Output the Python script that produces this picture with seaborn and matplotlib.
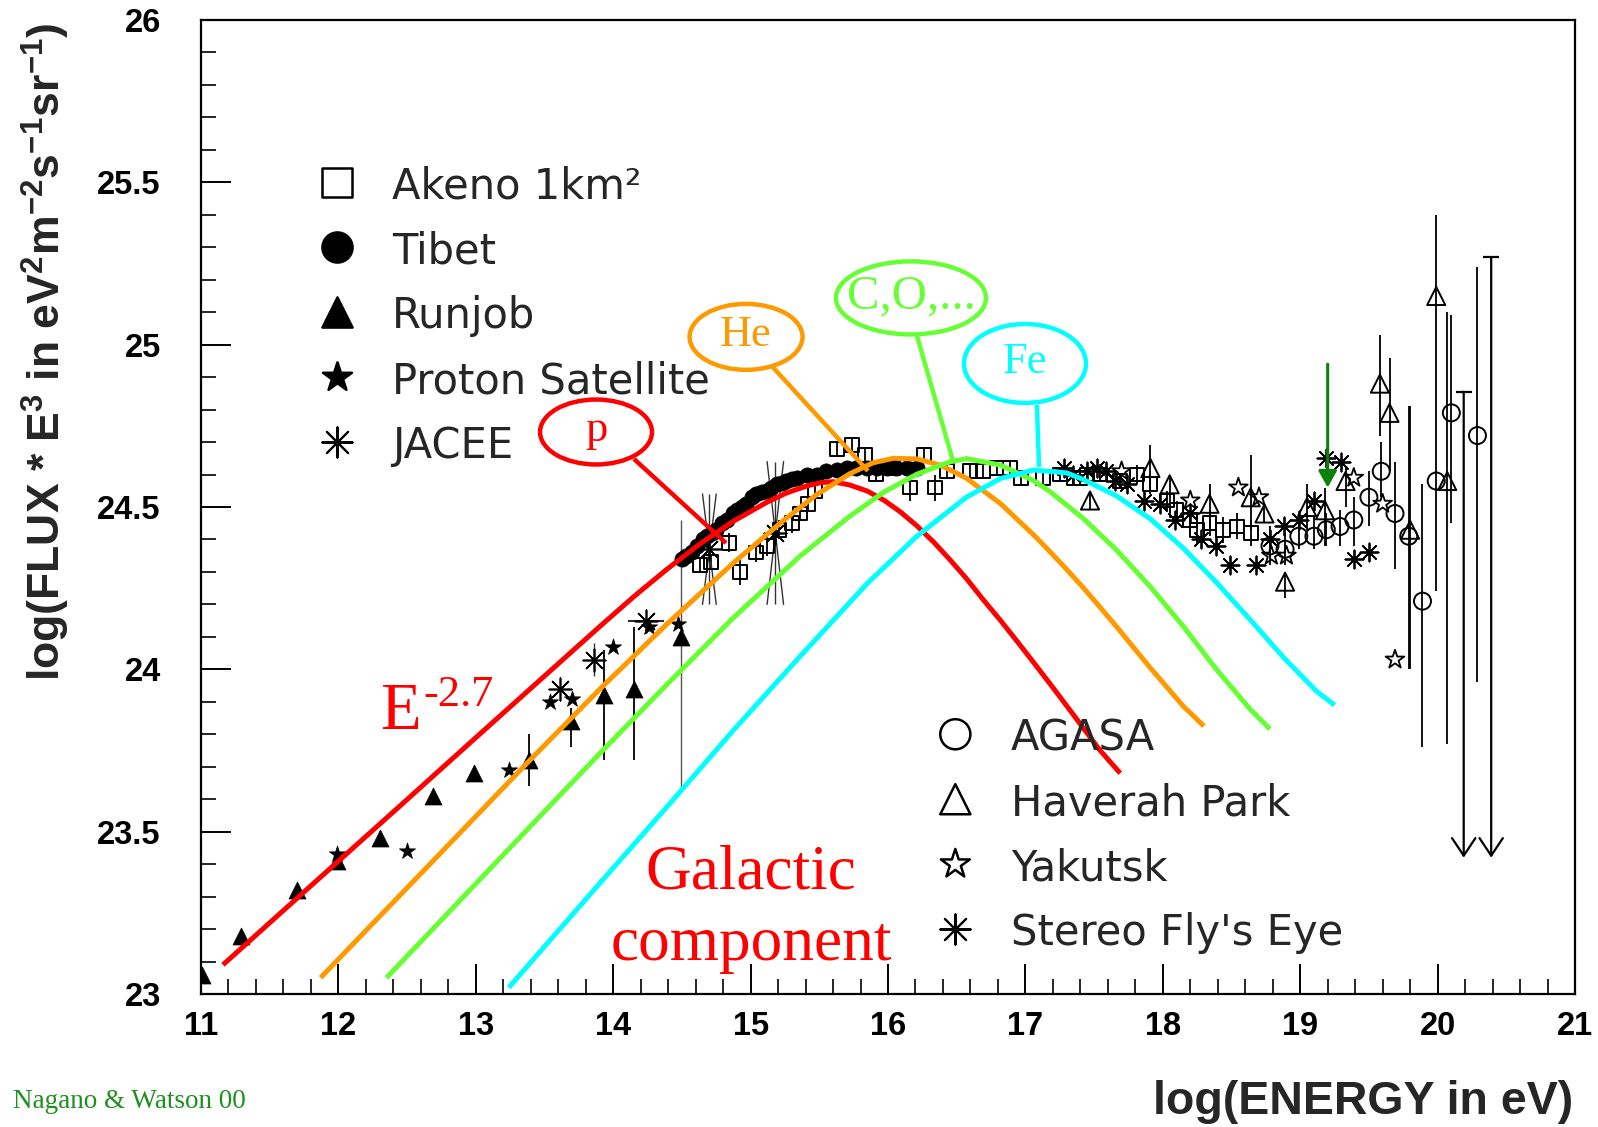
import numpy as np
import pandas as pd
import matplotlib
matplotlib.use("Agg")
import matplotlib.pyplot as plt
from matplotlib.patches import Ellipse
from matplotlib.ticker import MultipleLocator, FixedLocator
import seaborn as sns

# ---------------- galactic component model spectra (log E, log flux*E^3) ----------------
p_x = [11.16, 11.72, 12.45, 12.98, 13.42, 13.90, 14.15, 14.39, 14.63, 14.87, 15.12, 15.26,
       15.41, 15.51, 15.60, 15.72, 15.85, 15.97, 16.09, 16.21, 16.33, 16.45, 16.57, 16.69,
       16.82, 16.94, 17.06, 17.18, 17.30, 17.42, 17.54, 17.69]
p_y = [23.09, 23.303, 23.580, 23.782, 23.949, 24.131, 24.224, 24.308, 24.386, 24.455, 24.515, 24.543,
       24.565, 24.575, 24.578, 24.568, 24.549, 24.521, 24.485, 24.442, 24.393, 24.338, 24.280, 24.216,
       24.150, 24.086, 24.021, 23.955, 23.888, 23.820, 23.752, 23.680]

he_x = [11.87, 12.40, 12.90, 13.40, 13.90, 14.39, 14.87, 15.24, 15.48, 15.72, 15.89, 16.04,
        16.21, 16.38, 16.57, 16.82, 17.06, 17.18, 17.30, 17.42, 17.54, 17.66, 17.91, 18.15, 18.30]
he_y = [23.05, 23.283, 23.503, 23.723, 23.938, 24.139, 24.326, 24.459, 24.538, 24.602, 24.636, 24.650,
        24.648, 24.629, 24.589, 24.510, 24.414, 24.362, 24.308, 24.252, 24.193, 24.133, 24.004, 23.886, 23.825]

co_x = [12.35, 12.90, 13.49, 13.90, 14.39, 14.87, 15.36, 15.72, 15.97, 16.21, 16.45, 16.57,
        16.82, 17.06, 17.18, 17.42, 17.66, 17.91, 18.15, 18.39, 18.64, 18.78]
co_y = [23.05, 23.295, 23.558, 23.740, 23.953, 24.157, 24.349, 24.471, 24.546, 24.601, 24.639, 24.649,
        24.629, 24.581, 24.547, 24.465, 24.369, 24.254, 24.132, 24.000, 23.875, 23.816]

fe_x = [13.24, 13.90, 14.44, 14.87, 15.36, 15.85, 16.21, 16.57, 16.82, 17.06, 17.30, 17.42,
        17.66, 17.91, 18.15, 18.39, 18.64, 18.88, 19.12, 19.25]
fe_y = [23.02, 23.34, 23.60, 23.81, 24.04, 24.265, 24.41, 24.53, 24.588, 24.614, 24.605, 24.585,
        24.535, 24.463, 24.373, 24.268, 24.151, 24.036, 23.932, 23.89]

# ---------------- measurements ----------------
# Akeno 1 km^2
ak_x = [14.63, 14.71, 14.84, 14.92, 15.04, 15.12, 15.21, 15.30, 15.36, 15.42, 15.47, 15.63,
        15.74, 15.83, 15.91, 16.04, 16.16, 16.26, 16.34, 16.43, 16.60, 16.69, 16.79, 16.89,
        16.97, 17.13, 17.25, 17.35, 17.40, 17.45, 17.54, 17.69, 17.81, 17.91, 18.03, 18.10,
        18.20, 18.25, 18.34, 18.44, 18.54, 18.64]
ak_y = [24.32, 24.33, 24.39, 24.30, 24.36, 24.38, 24.43, 24.45, 24.48, 24.51, 24.55, 24.68,
        24.69, 24.66, 24.60, 24.62, 24.56, 24.66, 24.56, 24.61, 24.61, 24.61, 24.62, 24.62,
        24.59, 24.59, 24.60, 24.59, 24.59, 24.60, 24.60, 24.58, 24.60, 24.57, 24.52, 24.49,
        24.46, 24.43, 24.45, 24.43, 24.44, 24.42]
ak_err = [0.02, 0.02, 0.03, 0.04, 0.03, 0.03, 0.03, 0.03, 0.02, 0.02, 0.02, 0.02,
          0.02, 0.02, 0.02, 0.02, 0.04, 0.02, 0.04, 0.02, 0.02, 0.02, 0.02, 0.02,
          0.02, 0.02, 0.02, 0.02, 0.02, 0.02, 0.02, 0.02, 0.03, 0.03, 0.03, 0.03,
          0.03, 0.04, 0.04, 0.04, 0.04, 0.04]

# Tibet
tb_x = [14.50, 14.53, 14.57, 14.61, 14.65, 14.68, 14.72, 14.75, 14.79, 14.83, 14.87, 14.90,
        14.94, 14.97, 15.01, 15.04, 15.08, 15.12, 15.15, 15.19, 15.23, 15.26, 15.30, 15.34,
        15.41, 15.48, 15.55, 15.63, 15.70, 15.77, 15.85, 15.92, 15.99, 16.06, 16.14, 16.21]
tb_y = [24.34, 24.35, 24.36, 24.38, 24.40, 24.41, 24.42, 24.43, 24.45, 24.46, 24.48, 24.49,
        24.50, 24.51, 24.53, 24.54, 24.545, 24.55, 24.56, 24.57, 24.575, 24.58, 24.585, 24.59,
        24.60, 24.60, 24.61, 24.615, 24.62, 24.62, 24.62, 24.62, 24.62, 24.62, 24.62, 24.62]

# Runjob
rj_x = [11.01, 11.29, 11.70, 11.99, 12.30, 12.69, 12.99, 13.39, 13.69, 13.93, 14.15, 14.49]
rj_y = [23.06, 23.18, 23.32, 23.41, 23.48, 23.61, 23.68, 23.72, 23.84, 23.92, 23.94, 24.10]
rj_lo = [23.06, 23.18, 23.32, 23.41, 23.48, 23.61, 23.68, 23.64, 23.76, 23.72, 23.72, 23.63]
rj_hi = [23.06, 23.18, 23.32, 23.41, 23.48, 23.61, 23.68, 23.80, 23.88, 24.06, 24.13, 24.46]

# Proton Satellite
ps_x = [11.99, 12.50, 13.24, 13.54, 13.70, 14.00, 14.26, 14.47]
ps_y = [23.43, 23.44, 23.69, 23.90, 23.91, 24.07, 24.13, 24.14]

# JACEE
jc_x = [13.61, 13.86, 14.24, 14.70, 15.18]
jc_y = [23.94, 24.03, 24.15, 24.37, 24.42]
jc_dx = [0.00, 0.00, 0.13, 0.10, 0.12]
jc_dy = [0.00, 0.05, 0.00, 0.17, 0.22]

# AGASA
ag_x = [18.78, 18.89, 18.99, 19.10, 19.19, 19.29, 19.39, 19.50, 19.59, 19.69, 19.79, 19.89,
        19.99, 20.10, 20.29]
ag_y = [24.38, 24.37, 24.41, 24.41, 24.43, 24.44, 24.46, 24.53, 24.61, 24.48, 24.41, 24.21,
        24.58, 24.79, 24.72]
ag_lo = [24.32, 24.32, 24.37, 24.37, 24.38, 24.38, 24.38, 24.44, 24.53, 24.31, 24.00, 23.76,
         24.58, 24.45, 23.96]
ag_hi = [24.44, 24.42, 24.45, 24.47, 24.48, 24.49, 24.53, 24.61, 24.70, 24.64, 24.81, 24.57,
         24.58, 25.09, 25.24]

# Haverah Park
hp_x = [17.47, 17.91, 18.05, 18.34, 18.64, 18.74, 18.89, 19.05, 19.18, 19.33, 19.58, 19.65,
        19.80, 19.99, 20.07]
hp_y = [24.52, 24.62, 24.57, 24.51, 24.53, 24.48, 24.27, 24.50, 24.49, 24.58, 24.88, 24.79,
        24.43, 25.15, 24.58]
hp_lo = [24.49, 24.55, 24.50, 24.43, 24.43, 24.45, 24.22, 24.43, 24.38, 24.50, 24.72, 24.61,
         24.00, 24.24, 23.77]
hp_hi = [24.54, 24.69, 24.59, 24.57, 24.66, 24.51, 24.30, 24.57, 24.56, 24.62, 25.03, 24.96,
         24.81, 25.40, 25.10]

# Yakutsk
yk_x = [17.70, 18.20, 18.55, 18.70, 18.79, 18.90, 19.39, 19.60, 19.69]
yk_y = [24.61, 24.52, 24.56, 24.53, 24.35, 24.35, 24.59, 24.51, 24.03]

# Stereo Fly's Eye
fe_obs_x = [17.28, 17.35, 17.45, 17.52, 17.59, 17.65, 17.74, 17.86, 17.98, 18.09, 18.20, 18.28,
            18.39, 18.49, 18.68, 18.78, 18.88, 18.99, 19.10, 19.19, 19.30, 19.39, 19.50]
fe_obs_y = [24.62, 24.60, 24.61, 24.62, 24.61, 24.58, 24.57, 24.52, 24.51, 24.46, 24.48, 24.40,
            24.38, 24.32, 24.32, 24.40, 24.44, 24.46, 24.52, 24.65, 24.64, 24.34, 24.36]

# AGASA upper limits (log E, upper value)
ul_x = [20.19, 20.39]
ul_y = [24.855, 25.27]

# GZK-region marker
mark_x = 19.20
mark_y = [24.94, 24.56]

upper_labels = ["Akeno 1km\u00b2", "Tibet", "Runjob", "Proton Satellite", "JACEE"]
lower_labels = ["AGASA", "Haverah Park", "Yakutsk", "Stereo Fly's Eye"]

x_ticks = [11, 12, 13, 14, 15, 16, 17, 18, 19, 20, 21]
y_ticks = [23, 23.5, 24, 24.5, 25, 25.5, 26]
y_ticklabels = ["23", "23.5", "24", "24.5", "25", "25.5", "26"]

# ---------------- styling ----------------
sns.set_style("white")
plt.rcParams["font.family"] = ["Liberation Sans", "DejaVu Sans"]
plt.rcParams["mathtext.fontset"] = "custom"
plt.rcParams["mathtext.rm"] = "Liberation Sans:bold"
plt.rcParams["mathtext.bf"] = "Liberation Sans:bold"
plt.rcParams["mathtext.it"] = "Liberation Sans:bold"
plt.rcParams["mathtext.default"] = "bf"

curve_colors = {"p": "#ff0000", "He": "#ff9900", "C,O,...": "#66ff33", "Fe": "#00ffff"}
SERIF = ["Liberation Serif", "DejaVu Serif"]
LEG_FONT = ["DejaVu Sans"]

fig = plt.figure(figsize=(15.98, 11.27), dpi=100)
fig.patch.set_facecolor("white")
ax = fig.add_axes([201 / 1598, 1 - 994 / 1127, 1374 / 1598, 974 / 1127])
ax.set_facecolor("white")

# ---------------- error bars ----------------
EB = dict(colors="black", linewidths=1.3, zorder=2)
ax.vlines(ak_x, np.array(ak_y) - np.array(ak_err), np.array(ak_y) + np.array(ak_err), **EB)
ax.vlines(rj_x[:-1], rj_lo[:-1], rj_hi[:-1], **EB)
ax.vlines(rj_x[-1:], rj_lo[-1:], rj_hi[-1:], colors="#555555", linewidths=1.0, zorder=2)
ax.vlines(ag_x, ag_lo, ag_hi, **EB)
ax.vlines(hp_x, hp_lo, hp_hi, **EB)
for x, y, dx, dy in zip(jc_x, jc_y, jc_dx, jc_dy):
    if dy > 0:
        ax.vlines(x, y - dy, y + dy, colors="#333333", linewidths=1.0, zorder=2)
    if dx > 0 and dy == 0:
        ax.hlines(y, x - dx, x + dx, colors="black", linewidths=1.2, zorder=2)
    if dx > 0 and dy > 0:
        ax.plot([x - dx * 0.5, x + dx * 0.5], [y + dy, y - dy], color="#333333", lw=1.0, zorder=2)
        ax.plot([x + dx * 0.5, x - dx * 0.5], [y + dy, y - dy], color="#333333", lw=1.0, zorder=2)

# ---------------- data points ----------------
AST = (8, 2, 0)
sns.scatterplot(x=ak_x, y=ak_y, marker="s", s=100, facecolor="none", edgecolor="black",
                linewidth=1.4, ax=ax, zorder=3)
sns.scatterplot(x=tb_x, y=tb_y, marker="o", s=120, color="black", edgecolor="black",
                linewidth=0.5, ax=ax, zorder=3)
sns.scatterplot(x=rj_x, y=rj_y, marker="^", s=150, color="black", edgecolor="black",
                linewidth=0.5, ax=ax, zorder=3)
sns.scatterplot(x=ps_x, y=ps_y, marker="*", s=150, color="black", edgecolor="black",
                linewidth=0.5, ax=ax, zorder=3)
sns.scatterplot(x=jc_x, y=jc_y, marker=AST, s=260, color="black", linewidth=1.2, ax=ax, zorder=3)
sns.scatterplot(x=ag_x, y=ag_y, marker="o", s=150, facecolor="none", edgecolor="black",
                linewidth=1.4, ax=ax, zorder=3)
sns.scatterplot(x=hp_x, y=hp_y, marker="^", s=170, facecolor="none", edgecolor="black",
                linewidth=1.4, ax=ax, zorder=3)
sns.scatterplot(x=yk_x, y=yk_y, marker="*", s=200, facecolor="none", edgecolor="black",
                linewidth=1.3, ax=ax, zorder=3)
sns.scatterplot(x=fe_obs_x, y=fe_obs_y, marker=AST, s=170, color="black", linewidth=1.3,
                ax=ax, zorder=3)

# upper limits
for x, top in zip(ul_x, ul_y):
    ax.annotate("", xy=(x, 23.42), xytext=(x, top),
                arrowprops=dict(arrowstyle="->,head_length=0.45,head_width=0.3", color="black",
                                lw=1.6, mutation_scale=28, shrinkA=0, shrinkB=0), zorder=3)
    ax.plot([x], [top], marker="_", markersize=12, markeredgewidth=1.6, color="black", zorder=3)

# green marker arrow
ax.annotate("", xy=(mark_x, mark_y[1]), xytext=(mark_x, mark_y[0]),
            arrowprops=dict(arrowstyle="-|>,head_length=0.5,head_width=0.28", color="#0a820a",
                            lw=2.2, mutation_scale=20, shrinkA=0, shrinkB=0), zorder=5)

# ---------------- model curves ----------------
curves = pd.concat([
    pd.DataFrame({"logE": p_x, "flux": p_y, "comp": "p"}),
    pd.DataFrame({"logE": he_x, "flux": he_y, "comp": "He"}),
    pd.DataFrame({"logE": co_x, "flux": co_y, "comp": "C,O,..."}),
    pd.DataFrame({"logE": fe_x, "flux": fe_y, "comp": "Fe"}),
], ignore_index=True)
sns.lineplot(data=curves, x="logE", y="flux", hue="comp", palette=curve_colors, sort=False,
             estimator=None, linewidth=3.6, legend=False, ax=ax, zorder=4)
for line in ax.get_lines()[-4:]:
    line.set_solid_capstyle("butt")
    line.set_solid_joinstyle("round")

# ---------------- callouts ----------------
callouts = [
    # name, ellipse centre, width, height, leader start, leader end, font size
    ("p", (13.875, 24.731), 0.815, 0.200, (14.151, 24.648), (14.821, 24.389), 32),
    ("He", (14.967, 25.024), 0.822, 0.203, (15.148, 24.937), (15.854, 24.611), 32),
    ("C,O,...", (16.167, 25.144), 1.092, 0.225, (16.211, 25.027), (16.473, 24.642), 35),
    ("Fe", (16.997, 24.942), 0.888, 0.243, (17.084, 24.814), (17.099, 24.623), 32),
]
for name, c, w, h, a, b, fs in callouts:
    col = curve_colors[name]
    ax.add_patch(Ellipse(c, w, h, fill=False, edgecolor=col, lw=3.2, zorder=6))
    ax.plot([a[0], b[0]], [a[1], b[1]], color=col, lw=3.2, zorder=6, solid_capstyle="butt")
    ax.text(c[0], c[1] + 0.005, name, color=col, fontsize=fs, family=SERIF,
            ha="center", va="center", zorder=7)

# annotations in red
ax.text(12.303, 23.816, "E", color="#ff0000", fontsize=48, family=SERIF, ha="left",
        va="baseline", zorder=7)
ax.text(12.616, 23.887, "-2.7", color="#ff0000", fontsize=32, family=SERIF, ha="left",
        va="baseline", zorder=7)
ax.text(15.003, 23.324, "Galactic", color="#ff0000", fontsize=45.5, family=SERIF,
        ha="center", va="baseline", zorder=7)
ax.text(15.003, 23.105, "component", color="#ff0000", fontsize=45.5, family=SERIF,
        ha="center", va="baseline", zorder=7)

# ---------------- legends ----------------
up_rows = [25.5, 25.3, 25.1, 24.9, 24.7]
up_marks = [("s", "none", 440), ("o", "black", 470), ("^", "black", 470), ("*", "black", 480),
            (AST, "black", 470)]
for lab, yrow, (m, fc, s) in zip(upper_labels, up_rows, up_marks):
    if m == AST:
        ax.scatter([11.99], [yrow], marker=m, s=s, color="black", linewidths=1.5, zorder=5)
    else:
        ax.scatter([11.99], [yrow], marker=m, s=s, facecolors=fc, edgecolors="black",
                   linewidths=1.8, zorder=5)
    ax.text(12.39, yrow - 0.05, lab, fontsize=30, family=LEG_FONT, ha="left",
            va="baseline", zorder=5)

lo_rows = [23.8, 23.6, 23.4, 23.2]
lo_marks = [("o", 470), ("^", 470), ("*", 480), (AST, 470)]
for lab, yrow, (m, s) in zip(lower_labels, lo_rows, lo_marks):
    if m == AST:
        ax.scatter([16.49], [yrow], marker=m, s=s, color="black", linewidths=1.5, zorder=5)
    else:
        ax.scatter([16.49], [yrow], marker=m, s=s, facecolors="none", edgecolors="black",
                   linewidths=1.8, zorder=5)
    ax.text(16.895, yrow - 0.05, lab, fontsize=30, family=LEG_FONT, ha="left",
            va="baseline", zorder=5)

# ---------------- axes ----------------
ax.set_xlim(11, 21)
ax.set_ylim(23, 26)
ax.xaxis.set_major_locator(FixedLocator(x_ticks))
ax.xaxis.set_minor_locator(MultipleLocator(0.2))
ax.yaxis.set_major_locator(FixedLocator(y_ticks))
ax.yaxis.set_minor_locator(MultipleLocator(0.1))
ax.set_yticklabels(y_ticklabels)
ax.set_xticklabels([str(t) for t in x_ticks])
ax.tick_params(which="major", direction="in", length=21.5, width=1.4, colors="black",
               top=False, right=False, bottom=True, left=True)
ax.tick_params(which="minor", direction="in", length=10.8, width=1.2, colors="black",
               top=False, right=False, bottom=True, left=True)
ax.tick_params(axis="x", which="major", pad=12, labelsize=23.5)
ax.tick_params(axis="y", which="major", pad=29, labelsize=23.5)
for lab in ax.get_xticklabels() + ax.get_yticklabels():
    lab.set_fontweight("bold")
    lab.set_family("Liberation Sans")
for sp in ax.spines.values():
    sp.set_color("black")
    sp.set_linewidth(1.6)
    sp.set_visible(True)
ax.set_xlabel("")
ax.set_ylabel("")

fig.text(0.0288, 0.6875,
         r"log(FLUX * E$^{3}$ in eV$^{2}$m$^{-2}$s$^{-1}$sr$^{-1}$)",
         rotation=90, ha="center", va="center", fontsize=32, fontweight="bold",
         family="Liberation Sans")
fig.text(1573 / 1598, 1 - 1102 / 1127, "log(ENERGY in eV)", ha="right", va="center",
         fontsize=33.5, fontweight="bold", family="Liberation Sans")
fig.text(13 / 1598, 1 - 1108 / 1127, "Nagano & Watson 00", ha="left", va="baseline",
         fontsize=19.5, color="#1f8f1f", family=SERIF)

fig.savefig("out.png", dpi=100, facecolor="white")
